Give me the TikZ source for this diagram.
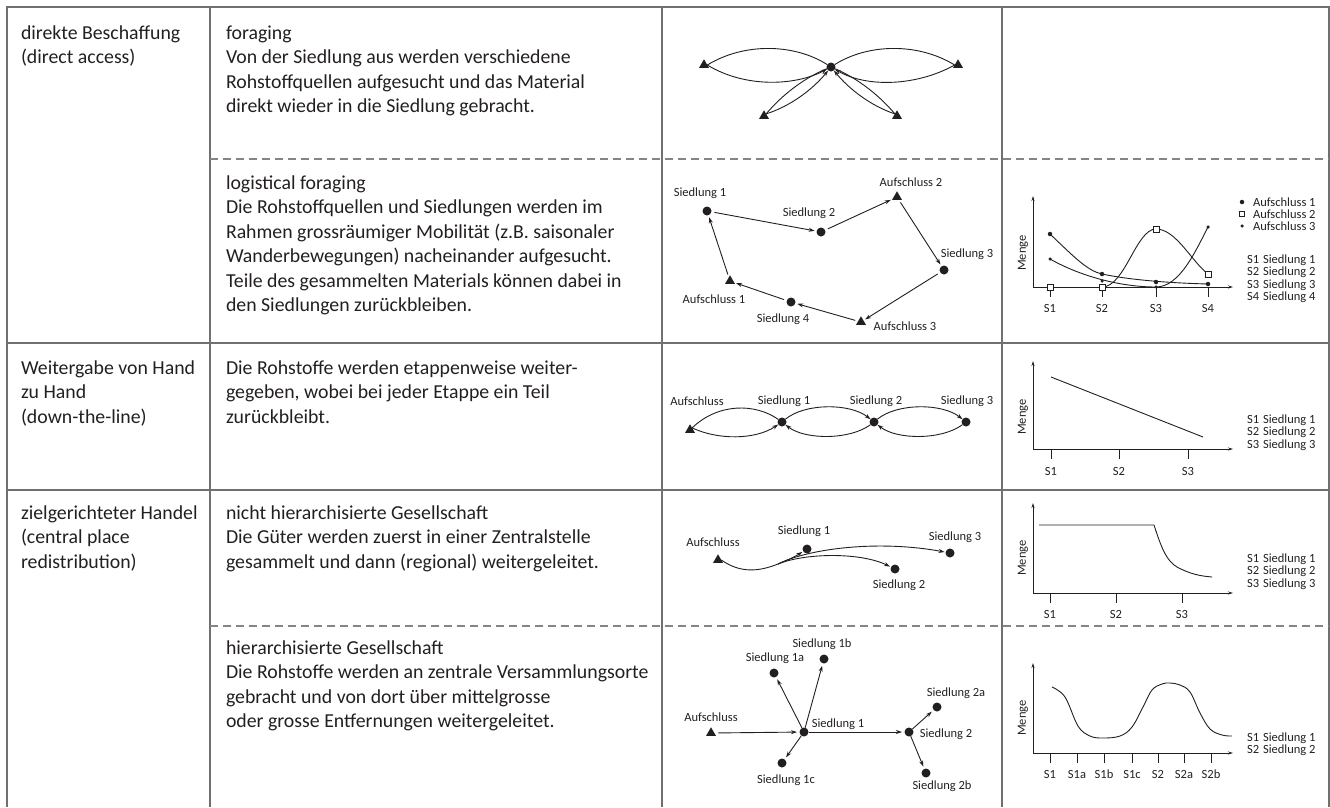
\documentclass[tikz,border=0pt]{standalone}
\usepackage{fontspec}
\setmainfont{Carlito}
\usetikzlibrary{arrows.meta,shapes.geometric}
\definecolor{ink}{HTML}{231F20}
\definecolor{rulegray}{HTML}{707070}
\newcommand\tcell[1]{\begin{tabular}[t]{@{}l@{}}#1\end{tabular}}
\begin{document}
\begin{tikzpicture}[x=1pt,y=-1pt,
  every node/.style={inner sep=0pt,outer sep=0pt,text=ink},
  body/.style={anchor=base west,font=\fontsize{19.8}{24.4}\selectfont},
  lbl/.style={font=\fontsize{12.5}{12}\selectfont},
  leg/.style={anchor=base west,font=\fontsize{12.5}{12.2}\selectfont},
  sdot/.style={circle,fill=ink,minimum size=9pt},
  tri/.style={regular polygon,regular polygon sides=3,fill=ink,minimum size=11.5pt},
  tabline/.style={draw=rulegray,line width=1.1pt},
  tabdash/.style={draw=rulegray!85,line width=1.1pt,dash pattern=on 8pt off 5pt},
  link/.style={draw=ink,line width=0.9pt},
  arr/.style={link,-{Stealth[length=6pt,width=4pt]}},
  axisline/.style={draw=ink,line width=0.8pt,-{Stealth[length=5pt,width=3pt]}},
  tickline/.style={draw=ink,line width=0.8pt},
  markA/.style={circle,fill=ink,minimum size=4.5pt},
  markB/.style={rectangle,draw=ink,fill=white,line width=0.7pt,minimum size=6pt},
  markC/.style={circle,fill=ink,minimum size=3.5pt},
]
\useasboundingbox (0,0) rectangle (1330,807);

% ---------------- table rules
\draw[tabline] (7,807) -- (7,7) -- (1329,7) -- (1329,807);
\draw[tabline] (210,7) -- (210,807);
\draw[tabline] (662,7) -- (662,807);
\draw[tabline] (1002,7) -- (1002,807);
\draw[tabline] (7,343) -- (1329,343);
\draw[tabline] (7,490) -- (1329,490);
\draw[tabdash] (210,159) -- (1329,159);
\draw[tabdash] (210,626) -- (1329,626);

% ---------------- texts
\node[body] (t1a) at (21,39.5) {\tcell{direkte Beschaffung\\(direct access)}};
\node[body] (t1b) at (226,39.5) {\tcell{foraging\\Von der Siedlung aus werden verschiedene\\Rohstoffquellen aufgesucht und das Material\\direkt wieder in die Siedlung gebracht.}};
\node[body] (t1c) at (226,189.5) {\tcell{logistical foraging\\Die Rohstoffquellen und Siedlungen werden im\\Rahmen grossräumiger Mobilität (z.B. saisonaler\\Wanderbewegungen) nacheinander aufgesucht.\\Teile des gesammelten Materials können dabei in\\den Siedlungen zurückbleiben.}};
\node[body] (t2a) at (21,374.5) {\tcell{Weitergabe von Hand\\zu Hand\\(down-the-line)}};
\node[body] (t2b) at (226,374.5) {\tcell{Die Rohstoffe werden etappenweise weiter-\\gegeben, wobei bei jeder Etappe ein Teil\\zurückbleibt.}};
\node[body] (t3a) at (21,519.5) {\tcell{zielgerichteter Handel\\(central place\\redistribution)}};
\node[body] (t3b) at (226,519.5) {\tcell{nicht hierarchisierte Gesellschaft\\Die Güter werden zuerst in einer Zentralstelle\\gesammelt und dann (regional) weitergeleitet.}};
\node[body] (t3c) at (226,654.5) {\tcell{hierarchisierte Gesellschaft\\Die Rohstoffe werden an zentrale Versammlungsorte\\gebracht und von dort über mittelgrosse\\oder grosse Entfernungen weitergeleitet.}};

% ---------------- foraging
\node[sdot] (fC) at (831,67) {};
\node[tri] (fT1) at (704,65) {};
\node[tri] (fT2) at (958,65) {};
\node[tri] (fT3) at (764,116) {};
\node[tri] (fT4) at (897,116) {};
\draw[link] (fT1.east) .. controls (745,42) and (795,44) .. (fC);
\draw[arr] (fT1.east) .. controls (745,88) and (795,86) .. (fC);
\draw[link] (fC) .. controls (867,44) and (917,42) .. (fT2.west);
\draw[arr] (fT2.west) .. controls (917,86) and (867,88) .. (fC);
\draw[link] (fT3.north east) .. controls (782,95) and (804,78) .. (fC);
\draw[arr] (fT3.north east) .. controls (791,106) and (813,89) .. (fC);
\draw[link] (fT4.north west) .. controls (879,95) and (857,78) .. (fC);
\draw[arr] (fT4.north west) .. controls (871,106) and (849,89) .. (fC);

% ---------------- logistical foraging
\node[sdot] (lS1) at (707,211) {};
\node[sdot] (lS2) at (821,232) {};
\node[tri] (lA2) at (897,197) {};
\node[sdot] (lS3) at (944,270) {};
\node[tri] (lA3) at (861,322) {};
\node[sdot] (lS4) at (791,302) {};
\node[tri] (lA1) at (730,281) {};
\node[lbl] (llS1) at (700,193) {Siedlung 1};
\node[lbl] (llS2) at (809,213) {Siedlung 2};
\node[lbl] (llA2) at (911,182) {Aufschluss 2};
\node[lbl] (llS3) at (967,254) {Siedlung 3};
\node[lbl] (llA1) at (714,299) {Aufschluss 1};
\node[lbl] (llS4) at (783,319) {Siedlung 4};
\node[lbl] (llA3) at (905,326) {Aufschluss 3};
\begin{scope}[shorten <=3pt,shorten >=2pt]
\draw[arr] (lS1) -- (lS2);
\draw[arr] (lS2) -- (lA2);
\draw[arr] (lA2) -- (lS3);
\draw[arr] (lS3) -- (lA3);
\draw[arr] (lA3) -- (lS4);
\draw[arr] (lS4) -- (lA1);
\draw[arr] (lA1) -- (lS1);
\end{scope}

% ---------------- down-the-line
\node[tri] (dA) at (690,430) {};
\node[sdot] (dS1) at (782,422) {};
\node[sdot] (dS2) at (874,422) {};
\node[sdot] (dS3) at (966,422) {};
\node[lbl] (ldA) at (697,401) {Aufschluss};
\node[lbl] (ldS1) at (784,401) {Siedlung 1};
\node[lbl] (ldS2) at (876,401) {Siedlung 2};
\node[lbl] (ldS3) at (967,401) {Siedlung 3};
\draw[link] (dA.north east) .. controls (718,403) and (755,403) .. (dS1);
\draw[arr] (dA.north east) .. controls (718,440) and (755,440) .. (dS1);
\draw[arr] (dS1) .. controls (805,403) and (850,403) .. (dS2);
\draw[arr] (dS2) .. controls (850,440) and (805,440) .. (dS1);
\draw[arr] (dS2) .. controls (897,403) and (942,403) .. (dS3);
\draw[arr] (dS3) .. controls (942,440) and (897,440) .. (dS2);

% ---------------- nicht hierarchisierte Gesellschaft
\node[tri] (nA) at (718,560) {};
\node[sdot] (nS1) at (807,549) {};
\node[sdot] (nS2) at (895,569) {};
\node[sdot] (nS3) at (950,553) {};
\node[lbl] (lnA) at (713,542) {Aufschluss};
\node[lbl] (lnS1) at (804,531) {Siedlung 1};
\node[lbl] (lnS2) at (899,585) {Siedlung 2};
\node[lbl] (lnS3) at (955,537) {Siedlung 3};
\coordinate (nJ) at (778,564);
\draw[link] (nA.east) .. controls (740,573) and (758,572) .. (nJ);
\draw[arr,shorten >=1pt] (nJ) .. controls (788,560) and (796,556) .. (nS1);
\draw[arr,shorten >=1pt] (nJ) .. controls (805,553) and (860,552) .. (nS2);
\draw[arr,shorten >=1pt] (nJ) .. controls (810,548) and (880,540) .. (nS3);

% ---------------- hierarchisierte Gesellschaft
\node[tri] (hA) at (711,733) {};
\node[sdot] (hS1) at (804,732) {};
\node[sdot] (h1a) at (774,673) {};
\node[sdot] (h1b) at (824,659) {};
\node[sdot] (h1c) at (782,763) {};
\node[sdot] (hS2) at (909,732) {};
\node[sdot] (h2a) at (937,707) {};
\node[sdot] (h2b) at (926,773) {};
\node[lbl] (lhA) at (711,717) {Aufschluss};
\node[lbl] (lh1a) at (775,658) {Siedlung 1a};
\node[lbl] (lh1b) at (822,644) {Siedlung 1b};
\node[lbl] (lhS1) at (838,724) {Siedlung 1};
\node[lbl] (lh2a) at (956,693) {Siedlung 2a};
\node[lbl] (lhS2) at (946,734) {Siedlung 2};
\node[lbl] (lh1c) at (786,780) {Siedlung 1c};
\node[lbl] (lh2b) at (942,786) {Siedlung 2b};
\begin{scope}[shorten >=2.5pt]
\draw[arr,shorten <=4pt] (hA) -- (hS1);
\draw[arr] (hS1) -- (h1a);
\draw[arr] (hS1) -- (h1b);
\draw[arr] (hS1) -- (h1c);
\draw[arr] (hS1) -- (hS2);
\draw[arr] (hS2) -- (h2a);
\draw[arr] (hS2) -- (h2b);
\end{scope}

% ---------------- chart 1 (logistical foraging)
\draw[axisline] (1033,287) -- (1033,196);
\draw[axisline] (1033,287) -- (1233,287);
\foreach \x/\t in {1050/S1,1102/S2,1156/S3,1208/S4}{
  \draw[tickline] (\x,287) -- (\x,297);
  \node[lbl] (ca\t) at (\x,308) {\t};
}
\node[lbl,rotate=90] (mg1) at (1023,253) {Menge};
\draw[link] (1050,234) .. controls (1075,258) and (1088,271) .. (1102,274) .. controls (1130,280) and (1170,283) .. (1208,284);
\draw[link] (1050,259) .. controls (1080,276) and (1120,287) .. (1156,287) .. controls (1180,287) and (1196,250) .. (1208,227);
\draw[link] (1102,287) .. controls (1125,287) and (1136,229) .. (1156,229) .. controls (1176,229) and (1192,262) .. (1208,274);
\foreach \i/\x/\y in {1/1050/234,2/1102/274,3/1156/282,4/1208/284}{\node[markA] (pa\i) at (\x,\y) {};}
\foreach \i/\x/\y in {1/1050/259,2/1102/281,3/1156/287,4/1208/227}{\node[markC] (pc\i) at (\x,\y) {};}
\foreach \i/\x/\y in {1/1050/287,2/1102/287,3/1156/229,4/1208/274}{\node[markB] (pb\i) at (\x,\y) {};}
\node[markA] (lgA) at (1242,202) {};
\node[markB,minimum size=5pt] (lgB) at (1242,214) {};
\node[markC] (lgC) at (1242,226) {};
\node[lbl,anchor=west] (lgtA) at (1253,202) {Aufschluss 1};
\node[lbl,anchor=west] (lgtB) at (1253,214) {Aufschluss 2};
\node[lbl,anchor=west] (lgtC) at (1253,226) {Aufschluss 3};
\node[leg] (lg1) at (1247,263.5) {\tcell{S1\hspace{4pt}Siedlung 1\\S2\hspace{4pt}Siedlung 2\\S3\hspace{4pt}Siedlung 3\\S4\hspace{4pt}Siedlung 4}};

% ---------------- chart 2 (down-the-line)
\draw[axisline] (1033,449) -- (1033,361);
\draw[axisline] (1033,449) -- (1233,449);
\foreach \x/\t in {1051/S1,1119/S2,1188/S3}{
  \draw[tickline] (\x,449) -- (\x,459);
  \node[lbl] (cb\t) at (\x,471) {\t};
}
\node[lbl,rotate=90] (mg2) at (1023,417) {Menge};
\draw[link] (1051,377) -- (1203,437);
\node[leg] (lg2) at (1247,423.5) {\tcell{S1\hspace{4pt}Siedlung 1\\S2\hspace{4pt}Siedlung 2\\S3\hspace{4pt}Siedlung 3}};

% ---------------- chart 3 (nicht hierarchisiert)
\draw[axisline] (1033,593) -- (1033,503);
\draw[axisline] (1033,593) -- (1233,593);
\foreach \x/\t in {1050/S1,1116/S2,1182/S3}{
  \draw[tickline] (\x,593) -- (\x,603);
  \node[lbl] (cc\t) at (\x,614) {\t};
}
\node[lbl,rotate=90] (mg3) at (1023,558) {Menge};
\draw[link] (1039,525) -- (1154,525) .. controls (1162,550) and (1167,561) .. (1177,567) .. controls (1190,574) and (1200,576) .. (1212,577);
\node[leg] (lg3) at (1247,562.5) {\tcell{S1\hspace{4pt}Siedlung 1\\S2\hspace{4pt}Siedlung 2\\S3\hspace{4pt}Siedlung 3}};

% ---------------- chart 4 (hierarchisiert)
\draw[axisline] (1033,753) -- (1033,663);
\draw[axisline] (1033,753) -- (1233,753);
\foreach \x/\t in {1050/S1,1077/S1a,1104/S1b,1132/S1c,1158/S2,1184/S2a,1211/S2b}{
  \draw[tickline] (\x,753) -- (\x,763);
  \node[lbl] (cd\t) at (\x,774) {\t};
}
\node[lbl,rotate=90] (mg4) at (1023,718) {Menge};
\draw[link] plot[smooth,tension=0.6] coordinates {(1052,687) (1065,697) (1078,726) (1090,736) (1103,738) (1120,736) (1132,727) (1143,707) (1152,690) (1162,684) (1170,683) (1180,685) (1190,692) (1200,713) (1210,729) (1222,735) (1232,736)};
\node[leg] (lg4) at (1247,741.5) {\tcell{S1\hspace{4pt}Siedlung 1\\S2\hspace{4pt}Siedlung 2}};

\end{tikzpicture}
\end{document}
